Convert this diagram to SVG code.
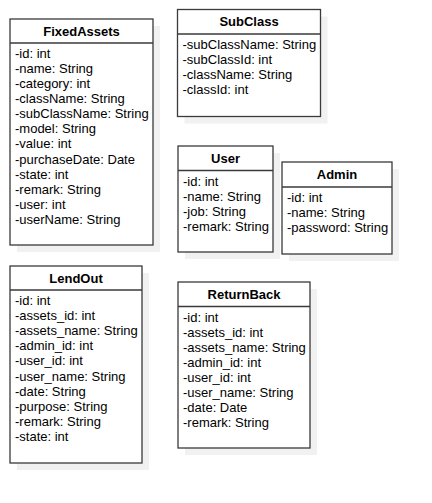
<svg xmlns="http://www.w3.org/2000/svg" width="432" height="503" viewBox="0 0 432 503">
<style>
.shadow{fill:#f1f1f1;stroke:none}
.box{fill:#ffffff;stroke:#3a3a3a;stroke-width:1.3}
.div{stroke:#3a3a3a;stroke-width:1.3}
.title{font-family:"Liberation Sans",Arial,sans-serif;font-size:13px;font-weight:bold;fill:#000;text-anchor:middle}
.attr{font-family:"Liberation Sans",Arial,sans-serif;font-size:13px;fill:#000}
</style>
<rect width="432" height="503" fill="#ffffff"/>
<g id="connectors"/>
<g id="FixedAssets">
<rect class="shadow" x="17" y="26" width="143" height="226"/>
<rect class="box" x="10" y="19" width="143" height="226"/>
<line class="div" x1="10" y1="43" x2="153" y2="43"/>
<text class="title" x="81.5" y="35.6">FixedAssets</text>
<text class="attr" x="15" y="57.8"><tspan x="15">-id: int</tspan><tspan x="15" dy="15.1">-name: String</tspan><tspan x="15" dy="15.1">-category: int</tspan><tspan x="15" dy="15.1">-className: String</tspan><tspan x="15" dy="15.1">-subClassName: String</tspan><tspan x="15" dy="15.1">-model: String</tspan><tspan x="15" dy="15.1">-value: int</tspan><tspan x="15" dy="15.1">-purchaseDate: Date</tspan><tspan x="15" dy="15.1">-state: int</tspan><tspan x="15" dy="15.1">-remark: String</tspan><tspan x="15" dy="15.1">-user: int</tspan><tspan x="15" dy="15.1">-userName: String</tspan></text>
</g>
<g id="SubClass">
<rect class="shadow" x="184.5" y="16.5" width="143" height="107"/>
<rect class="box" x="177.5" y="9.5" width="143" height="107"/>
<line class="div" x1="177.5" y1="34" x2="320.5" y2="34"/>
<text class="title" x="249" y="26.4">SubClass</text>
<text class="attr" x="182.5" y="49"><tspan x="182.5">-subClassName: String</tspan><tspan x="182.5" dy="15.1">-subClassId: int</tspan><tspan x="182.5" dy="15.1">-className: String</tspan><tspan x="182.5" dy="15.1">-classId: int</tspan></text>
</g>
<g id="User">
<rect class="shadow" x="185" y="153" width="95" height="106"/>
<rect class="box" x="178" y="146" width="95" height="106"/>
<line class="div" x1="178" y1="170.5" x2="273" y2="170.5"/>
<text class="title" x="225.5" y="162.9">User</text>
<text class="attr" x="183" y="185.5"><tspan x="183">-id: int</tspan><tspan x="183" dy="15.1">-name: String</tspan><tspan x="183" dy="15.1">-job: String</tspan><tspan x="183" dy="15.1">-remark: String</tspan></text>
</g>
<g id="Admin">
<rect class="shadow" x="289" y="169" width="110" height="92"/>
<rect class="box" x="282" y="162" width="110" height="92"/>
<line class="div" x1="282" y1="187" x2="392" y2="187"/>
<text class="title" x="337" y="179.1">Admin</text>
<text class="attr" x="287" y="202"><tspan x="287">-id: int</tspan><tspan x="287" dy="15.1">-name: String</tspan><tspan x="287" dy="15.1">-password: String</tspan></text>
</g>
<g id="LendOut">
<rect class="shadow" x="17" y="273" width="132" height="197"/>
<rect class="box" x="10" y="266" width="132" height="197"/>
<line class="div" x1="10" y1="290" x2="142" y2="290"/>
<text class="title" x="76" y="282.6">LendOut</text>
<text class="attr" x="15" y="305"><tspan x="15">-id: int</tspan><tspan x="15" dy="15.1">-assets_id: int</tspan><tspan x="15" dy="15.1">-assets_name: String</tspan><tspan x="15" dy="15.1">-admin_id: int</tspan><tspan x="15" dy="15.1">-user_id: int</tspan><tspan x="15" dy="15.1">-user_name: String</tspan><tspan x="15" dy="15.1">-date: String</tspan><tspan x="15" dy="15.1">-purpose: String</tspan><tspan x="15" dy="15.1">-remark: String</tspan><tspan x="15" dy="15.1">-state: int</tspan></text>
</g>
<g id="ReturnBack">
<rect class="shadow" x="185" y="289" width="132" height="166"/>
<rect class="box" x="178" y="282" width="132" height="166"/>
<line class="div" x1="178" y1="306.5" x2="310" y2="306.5"/>
<text class="title" x="244" y="298.9">ReturnBack</text>
<text class="attr" x="183" y="321.5"><tspan x="183">-id: int</tspan><tspan x="183" dy="15.1">-assets_id: int</tspan><tspan x="183" dy="15.1">-assets_name: String</tspan><tspan x="183" dy="15.1">-admin_id: int</tspan><tspan x="183" dy="15.1">-user_id: int</tspan><tspan x="183" dy="15.1">-user_name: String</tspan><tspan x="183" dy="15.1">-date: Date</tspan><tspan x="183" dy="15.1">-remark: String</tspan></text>
</g>
</svg>
